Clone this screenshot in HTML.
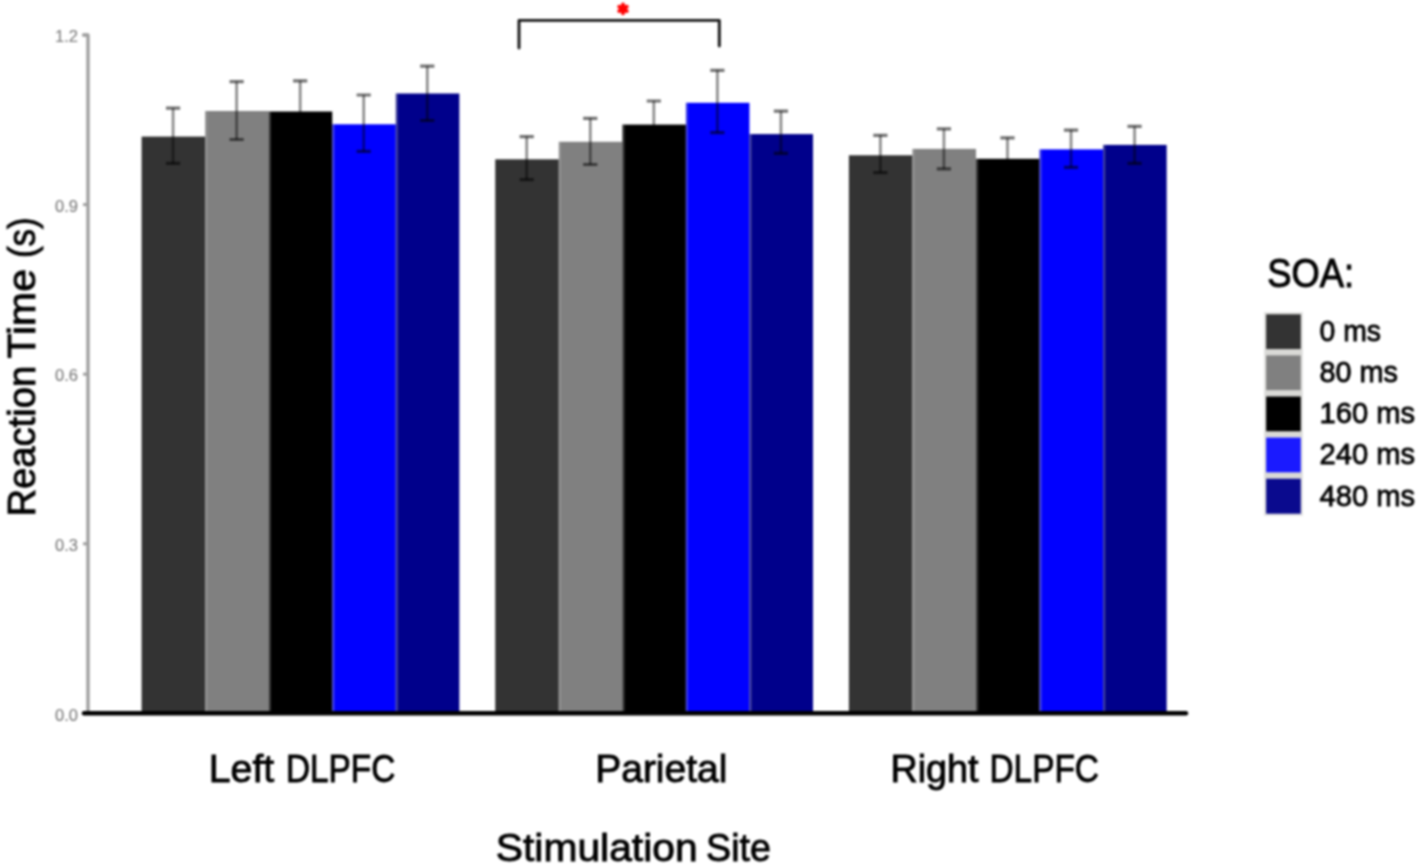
<!DOCTYPE html>
<html><head><meta charset="utf-8"><style>
html,body{margin:0;padding:0;background:#fff;width:1417px;height:866px;overflow:hidden}
svg{display:block;filter:blur(0.8px)}
text{font-family:"Liberation Sans",sans-serif}
</style></head><body>
<svg width="1417" height="866" viewBox="0 0 1417 866">
<rect width="100%" height="100%" fill="#fff"/>
<rect x="141.60" y="136.60" width="63.55" height="576.40" fill="#333333"/>
<rect x="205.15" y="111.00" width="63.55" height="602.00" fill="#808080"/>
<rect x="205.15" y="111.00" width="2.2" height="602.00" fill="#b4b4b4" fill-opacity="0.32"/>
<rect x="268.70" y="111.50" width="63.55" height="601.50" fill="#000000"/>
<rect x="268.70" y="111.50" width="2.2" height="601.50" fill="#b4b4b4" fill-opacity="0.32"/>
<rect x="332.25" y="124.30" width="63.55" height="588.70" fill="#0000ff"/>
<rect x="332.25" y="124.30" width="2.2" height="588.70" fill="#b4b4b4" fill-opacity="0.32"/>
<rect x="395.80" y="93.50" width="63.55" height="619.50" fill="#00008b"/>
<rect x="395.80" y="93.50" width="2.2" height="619.50" fill="#b4b4b4" fill-opacity="0.32"/>
<rect x="495.25" y="159.30" width="63.55" height="553.70" fill="#333333"/>
<rect x="558.80" y="141.80" width="63.55" height="571.20" fill="#808080"/>
<rect x="558.80" y="141.80" width="2.2" height="571.20" fill="#b4b4b4" fill-opacity="0.32"/>
<rect x="622.35" y="124.60" width="63.55" height="588.40" fill="#000000"/>
<rect x="622.35" y="124.60" width="2.2" height="588.40" fill="#b4b4b4" fill-opacity="0.32"/>
<rect x="685.90" y="102.80" width="63.55" height="610.20" fill="#0000ff"/>
<rect x="685.90" y="102.80" width="2.2" height="610.20" fill="#b4b4b4" fill-opacity="0.32"/>
<rect x="749.45" y="134.10" width="63.55" height="578.90" fill="#00008b"/>
<rect x="749.45" y="134.10" width="2.2" height="578.90" fill="#b4b4b4" fill-opacity="0.32"/>
<rect x="848.90" y="155.30" width="63.55" height="557.70" fill="#333333"/>
<rect x="912.45" y="148.90" width="63.55" height="564.10" fill="#808080"/>
<rect x="912.45" y="148.90" width="2.2" height="564.10" fill="#b4b4b4" fill-opacity="0.32"/>
<rect x="976.00" y="158.80" width="63.55" height="554.20" fill="#000000"/>
<rect x="976.00" y="158.80" width="2.2" height="554.20" fill="#b4b4b4" fill-opacity="0.32"/>
<rect x="1039.55" y="149.40" width="63.55" height="563.60" fill="#0000ff"/>
<rect x="1039.55" y="149.40" width="2.2" height="563.60" fill="#b4b4b4" fill-opacity="0.32"/>
<rect x="1103.10" y="144.90" width="63.55" height="568.10" fill="#00008b"/>
<rect x="1103.10" y="144.90" width="2.2" height="568.10" fill="#b4b4b4" fill-opacity="0.32"/>
<path d="M173.07,108.10V163.40" stroke="#000" stroke-opacity="0.47" stroke-width="2.6" fill="none"/>
<path d="M165.97,108.10H180.17M165.97,163.40H180.17" stroke="#000" stroke-opacity="0.55" stroke-width="3.2" fill="none"/>
<path d="M236.62,81.60V139.50" stroke="#000" stroke-opacity="0.47" stroke-width="2.6" fill="none"/>
<path d="M229.52,81.60H243.72M229.52,139.50H243.72" stroke="#000" stroke-opacity="0.55" stroke-width="3.2" fill="none"/>
<path d="M300.17,80.80V142.00" stroke="#000" stroke-opacity="0.47" stroke-width="2.6" fill="none"/>
<path d="M293.07,80.80H307.27M293.07,142.00H307.27" stroke="#000" stroke-opacity="0.55" stroke-width="3.2" fill="none"/>
<path d="M363.72,95.00V151.30" stroke="#000" stroke-opacity="0.47" stroke-width="2.6" fill="none"/>
<path d="M356.62,95.00H370.82M356.62,151.30H370.82" stroke="#000" stroke-opacity="0.55" stroke-width="3.2" fill="none"/>
<path d="M427.27,66.20V120.50" stroke="#000" stroke-opacity="0.47" stroke-width="2.6" fill="none"/>
<path d="M420.17,66.20H434.37M420.17,120.50H434.37" stroke="#000" stroke-opacity="0.55" stroke-width="3.2" fill="none"/>
<path d="M526.73,136.70V179.70" stroke="#000" stroke-opacity="0.47" stroke-width="2.6" fill="none"/>
<path d="M519.62,136.70H533.83M519.62,179.70H533.83" stroke="#000" stroke-opacity="0.55" stroke-width="3.2" fill="none"/>
<path d="M590.27,118.30V164.50" stroke="#000" stroke-opacity="0.47" stroke-width="2.6" fill="none"/>
<path d="M583.17,118.30H597.38M583.17,164.50H597.38" stroke="#000" stroke-opacity="0.55" stroke-width="3.2" fill="none"/>
<path d="M653.83,101.00V148.00" stroke="#000" stroke-opacity="0.47" stroke-width="2.6" fill="none"/>
<path d="M646.73,101.00H660.93M646.73,148.00H660.93" stroke="#000" stroke-opacity="0.55" stroke-width="3.2" fill="none"/>
<path d="M717.38,70.30V132.60" stroke="#000" stroke-opacity="0.47" stroke-width="2.6" fill="none"/>
<path d="M710.27,70.30H724.48M710.27,132.60H724.48" stroke="#000" stroke-opacity="0.55" stroke-width="3.2" fill="none"/>
<path d="M780.93,111.20V153.30" stroke="#000" stroke-opacity="0.47" stroke-width="2.6" fill="none"/>
<path d="M773.83,111.20H788.03M773.83,153.30H788.03" stroke="#000" stroke-opacity="0.55" stroke-width="3.2" fill="none"/>
<path d="M880.38,135.30V172.60" stroke="#000" stroke-opacity="0.47" stroke-width="2.6" fill="none"/>
<path d="M873.27,135.30H887.48M873.27,172.60H887.48" stroke="#000" stroke-opacity="0.55" stroke-width="3.2" fill="none"/>
<path d="M943.92,128.90V168.90" stroke="#000" stroke-opacity="0.47" stroke-width="2.6" fill="none"/>
<path d="M936.82,128.90H951.02M936.82,168.90H951.02" stroke="#000" stroke-opacity="0.55" stroke-width="3.2" fill="none"/>
<path d="M1007.48,137.80V181.00" stroke="#000" stroke-opacity="0.47" stroke-width="2.6" fill="none"/>
<path d="M1000.38,137.80H1014.58M1000.38,181.00H1014.58" stroke="#000" stroke-opacity="0.55" stroke-width="3.2" fill="none"/>
<path d="M1071.03,130.10V167.40" stroke="#000" stroke-opacity="0.47" stroke-width="2.6" fill="none"/>
<path d="M1063.93,130.10H1078.12M1063.93,167.40H1078.12" stroke="#000" stroke-opacity="0.55" stroke-width="3.2" fill="none"/>
<path d="M1134.58,126.40V163.40" stroke="#000" stroke-opacity="0.47" stroke-width="2.6" fill="none"/>
<path d="M1127.48,126.40H1141.67M1127.48,163.40H1141.67" stroke="#000" stroke-opacity="0.55" stroke-width="3.2" fill="none"/>
<path d="M83.5,35H88V713" stroke="#a0a0a0" stroke-width="3.4" fill="none" stroke-linejoin="round" stroke-linecap="round"/>
<path d="M83,35.00H88" stroke="#a0a0a0" stroke-width="3"/>
<text x="78.0" y="42.20" text-anchor="end" font-family="Liberation Sans" font-size="16.5" fill="#7d7d7d" stroke="#7d7d7d" stroke-width="0.15">1.2</text>
<path d="M83,204.60H88" stroke="#a0a0a0" stroke-width="3"/>
<text x="78.0" y="211.80" text-anchor="end" font-family="Liberation Sans" font-size="16.5" fill="#7d7d7d" stroke="#7d7d7d" stroke-width="0.15">0.9</text>
<path d="M83,374.20H88" stroke="#a0a0a0" stroke-width="3"/>
<text x="78.0" y="381.40" text-anchor="end" font-family="Liberation Sans" font-size="16.5" fill="#7d7d7d" stroke="#7d7d7d" stroke-width="0.15">0.6</text>
<path d="M83,543.80H88" stroke="#a0a0a0" stroke-width="3"/>
<text x="78.0" y="551.00" text-anchor="end" font-family="Liberation Sans" font-size="16.5" fill="#7d7d7d" stroke="#7d7d7d" stroke-width="0.15">0.3</text>
<path d="M83,713.40H88" stroke="#a0a0a0" stroke-width="3"/>
<text x="78.0" y="720.60" text-anchor="end" font-family="Liberation Sans" font-size="16.5" fill="#7d7d7d" stroke="#7d7d7d" stroke-width="0.15">0.0</text>
<path d="M84,713.3H1186" stroke="#000" stroke-width="4.4" stroke-linecap="round"/>
<text x="208.80" y="782.2" font-family="Liberation Sans" font-size="39.1" fill="#000" stroke="#000" stroke-width="0.9" textLength="65.40" lengthAdjust="spacingAndGlyphs" >Left</text>
<text x="285.90" y="782.2" font-family="Liberation Sans" font-size="39.1" fill="#000" stroke="#000" stroke-width="0.9" textLength="109.40" lengthAdjust="spacingAndGlyphs" >DLPFC</text>
<text x="595.20" y="782.3" font-family="Liberation Sans" font-size="39.1" fill="#000" stroke="#000" stroke-width="0.9" textLength="132.20" lengthAdjust="spacingAndGlyphs" >Parietal</text>
<text x="890.40" y="781.9" font-family="Liberation Sans" font-size="39.1" fill="#000" stroke="#000" stroke-width="0.9" textLength="88.10" lengthAdjust="spacingAndGlyphs" >Right</text>
<text x="989.50" y="781.9" font-family="Liberation Sans" font-size="39.1" fill="#000" stroke="#000" stroke-width="0.9" textLength="109.50" lengthAdjust="spacingAndGlyphs" >DLPFC</text>
<text x="495.80" y="860.6" font-family="Liberation Sans" font-size="39.4" fill="#000" stroke="#000" stroke-width="0.9" textLength="201.80" lengthAdjust="spacingAndGlyphs" >Stimulation</text>
<text x="706.10" y="860.6" font-family="Liberation Sans" font-size="39.4" fill="#000" stroke="#000" stroke-width="0.9" textLength="64.70" lengthAdjust="spacingAndGlyphs" >Site</text>
<text x="1267.20" y="286.6" font-family="Liberation Sans" font-size="40.2" fill="#000" stroke="#000" stroke-width="1.0" textLength="86.80" lengthAdjust="spacingAndGlyphs" >SOA:</text>
<text transform="translate(35.4,516.60) rotate(-90)" x="0" y="0" font-family="Liberation Sans" font-size="39.2" fill="#000" stroke="#000" stroke-width="0.9" textLength="150.80" lengthAdjust="spacingAndGlyphs">Reaction</text>
<text transform="translate(35.4,358.40) rotate(-90)" x="0" y="0" font-family="Liberation Sans" font-size="39.2" fill="#000" stroke="#000" stroke-width="0.9" textLength="89.30" lengthAdjust="spacingAndGlyphs">Time</text>
<text transform="translate(35.4,258.00) rotate(-90)" x="0" y="0" font-family="Liberation Sans" font-size="39.2" fill="#000" stroke="#000" stroke-width="0.9" textLength="40.70" lengthAdjust="spacingAndGlyphs">(s)</text>
<rect x="1263.9" y="312" width="39" height="203.8" fill="#e3e3e1"/>
<rect x="1266.1" y="314.30" width="34.7" height="35" fill="#333333"/>
<text x="1319.5" y="340.70" font-family="Liberation Sans" font-size="28.6" fill="#000" stroke="#000" stroke-width="0.8" textLength="61.5" lengthAdjust="spacingAndGlyphs" >0 ms</text>
<rect x="1265" y="349.30" width="36.8" height="6.1" fill="#d9d9d6"/>
<rect x="1266.1" y="355.40" width="34.7" height="35" fill="#808080"/>
<text x="1319.5" y="381.90" font-family="Liberation Sans" font-size="28.6" fill="#000" stroke="#000" stroke-width="0.8" textLength="78.5" lengthAdjust="spacingAndGlyphs" >80 ms</text>
<rect x="1265" y="390.40" width="36.8" height="6.1" fill="#d9d9d6"/>
<rect x="1266.1" y="396.50" width="34.7" height="35" fill="#000000"/>
<text x="1319.5" y="423.10" font-family="Liberation Sans" font-size="28.6" fill="#000" stroke="#000" stroke-width="0.8" textLength="95.5" lengthAdjust="spacingAndGlyphs" >160 ms</text>
<rect x="1265" y="431.50" width="36.8" height="6.1" fill="#d9d9d6"/>
<rect x="1266.1" y="437.60" width="34.7" height="35" fill="#1a1aff"/>
<text x="1319.5" y="464.30" font-family="Liberation Sans" font-size="28.6" fill="#000" stroke="#000" stroke-width="0.8" textLength="95.5" lengthAdjust="spacingAndGlyphs" >240 ms</text>
<rect x="1265" y="472.60" width="36.8" height="6.1" fill="#d9d9d6"/>
<rect x="1266.1" y="478.70" width="34.7" height="35" fill="#0a0a8e"/>
<text x="1319.5" y="505.50" font-family="Liberation Sans" font-size="28.6" fill="#000" stroke="#000" stroke-width="0.8" textLength="95.5" lengthAdjust="spacingAndGlyphs" >480 ms</text>
<path d="M519,48V20.4H719.3V46" stroke="#151515" stroke-width="2.9" fill="none" stroke-linejoin="round" stroke-linecap="round"/>
<path d="M623.00,4.50L623.00,13.30M626.81,6.70L619.19,11.10M626.81,11.10L619.19,6.70" stroke="#ff0000" stroke-width="3.8" stroke-linecap="round"/>
</svg>
</body></html>
